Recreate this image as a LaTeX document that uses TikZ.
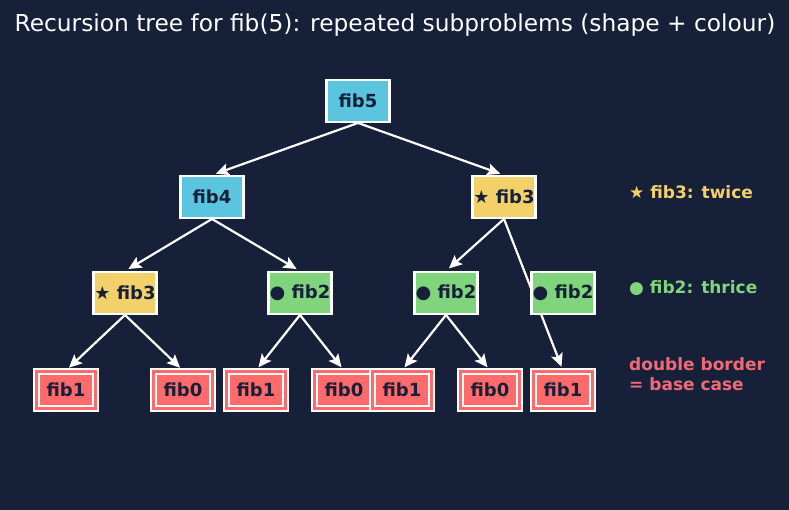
\documentclass[tikz,border=0pt]{standalone}
\usepackage{fontspec}
\setmainfont{DejaVu Sans}
\usetikzlibrary{arrows.meta,backgrounds}
\definecolor{bg}{HTML}{172039}
\definecolor{ink}{HTML}{172039}
\definecolor{nblue}{HTML}{5BC4DF}
\definecolor{nyellow}{HTML}{F2D16B}
\definecolor{ngreen}{HTML}{80D47B}
\definecolor{nred}{HTML}{FF6B6B}
\definecolor{lred}{HTML}{F06A78}
\begin{document}
\begin{tikzpicture}[x=1pt,y=-1pt,
  box/.style={draw=white,line width=2.4pt,minimum width=63pt,minimum height=41.5pt,inner sep=0pt,
    font=\fontsize{18}{21}\selectfont\bfseries,text=ink},
  base/.style={box,double=nred,double distance=3pt,line width=2pt,fill=nred,
    minimum width=59pt,minimum height=37pt},
  link/.style={draw=white,line width=2.2pt,-{Stealth[length=13pt,width=12pt,inset=2.5pt]},shorten >=4pt},
  legend/.style={anchor=west,inner sep=0pt,font=\fontsize{17}{20.5}\selectfont\bfseries}]
\useasboundingbox (0,0) rectangle (789,510);
% nodes
\node[box,fill=nblue] (f5) at (358,101) {fib5};
\node[box,fill=nblue] (f4) at (212,197) {fib4};
\node[box,fill=nyellow] (f3r) at (504,197) {★ fib3};
\node[box,fill=nyellow] (f3l) at (125,293) {★ fib3};
\node[box,fill=ngreen] (f2a) at (300,293) {● fib2};
\node[box,fill=ngreen] (f2b) at (446,293) {● fib2};
\node[box,fill=ngreen] (f2c) at (563,293) {● fib2};
\node[base] (b1) at (66,390) {fib1};
\node[base] (b2) at (183,390) {fib0};
\node[base] (b3) at (256,390) {fib1};
\node[base] (b4) at (344,390) {fib0};
\node[base] (b5) at (402,390) {fib1};
\node[base] (b6) at (490,390) {fib0};
\node[base] (b7) at (563,390) {fib1};
% title and legend
\node[text=white,font=\fontsize{23.3}{27}\selectfont] (title) at (395,25) {Recursion tree for fib(5): repeated subproblems (shape + colour)};
\node[legend,text=nyellow] (l1) at (629,192) {★ fib3: twice};
\node[legend,text=ngreen] (l2) at (629,288) {● fib2: thrice};
\node[legend,text=lred,align=left] (l3) at (629,374) {double border\\= base case};
% background and edges
\begin{scope}[on background layer]
\fill[bg] (0,0) rectangle (789,510);
\draw[link] (f5.south) -- (f4.north);
\draw[link] (f5.south) -- (f3r.north);
\draw[link] (f4.south) -- (f3l.north);
\draw[link] (f4.south) -- (f2a.north);
\draw[link] (f3r.south) -- (f2b.north);
\draw[link] (f3r.south) -- (b7.north);
\draw[link] (f3l.south) -- (b1.north);
\draw[link] (f3l.south) -- (b2.north);
\draw[link] (f2a.south) -- (b3.north);
\draw[link] (f2a.south) -- (b4.north);
\draw[link] (f2b.south) -- (b5.north);
\draw[link] (f2b.south) -- (b6.north);
\end{scope}
\end{tikzpicture}
\end{document}
